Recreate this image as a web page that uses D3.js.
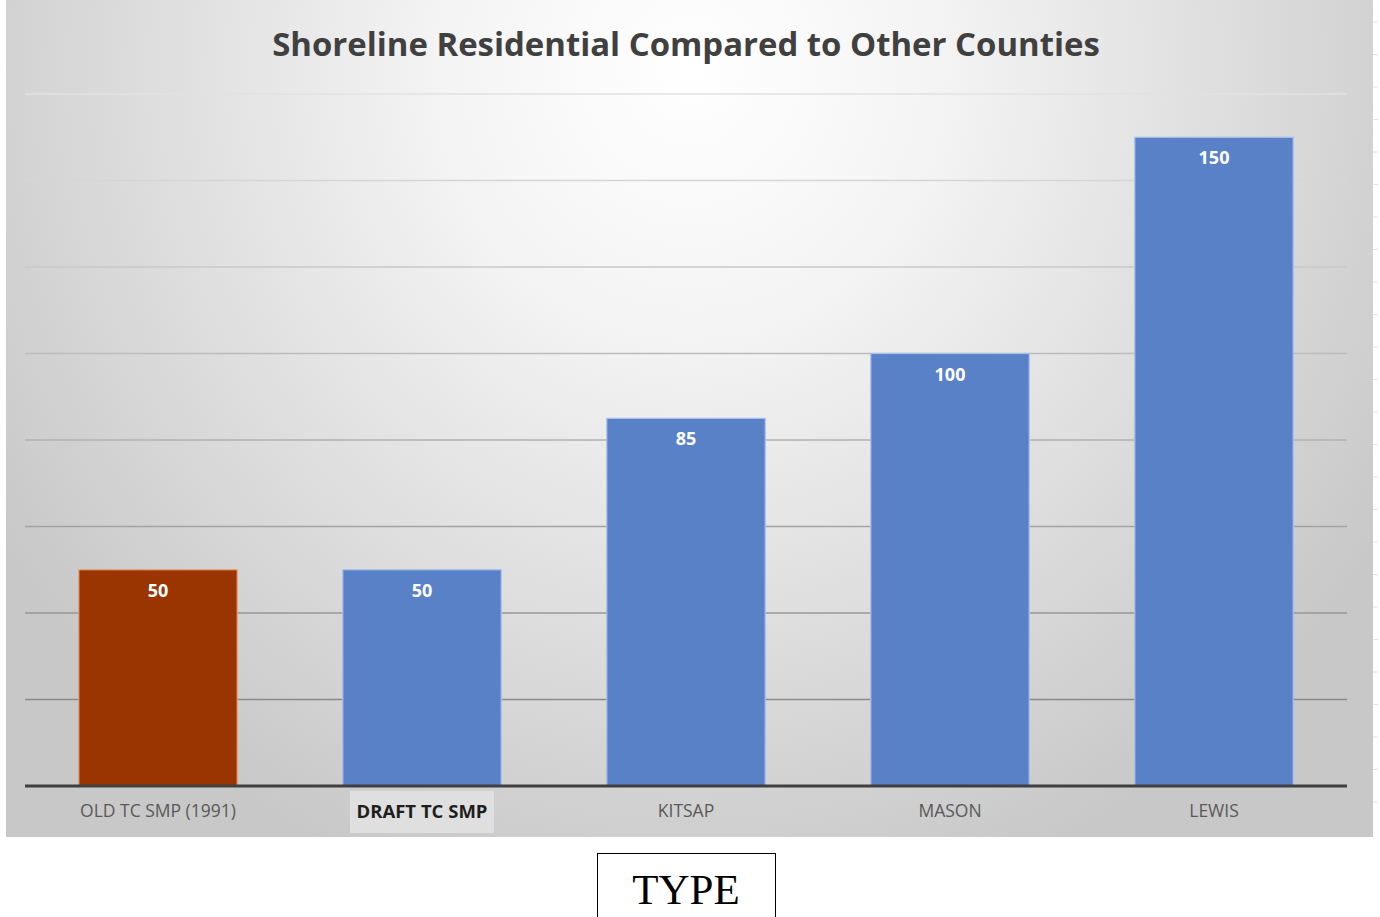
<!DOCTYPE html>
<html>
<head>
<meta charset="utf-8">
<script src="https://cdn.jsdelivr.net/npm/d3@7"></script>
<style>
  body { margin: 0; background: #fff; }
  svg { display: block; }
</style>
</head>
<body>
<div id="chart"></div>
<script>
// Chart data
var categories = ["OLD TC SMP (1991)", "DRAFT TC SMP", "KITSAP", "MASON", "LEWIS"];
var values = [50, 50, 85, 100, 150];
var gridTicks = [20, 40, 60, 80, 100, 120, 140, 160];
var highlighted = "OLD TC SMP (1991)";
var emphasised = "DRAFT TC SMP";
var title = "Shoreline Residential Compared to Other Counties";
var axisName = "TYPE";

var data = categories.map(function(c, i) { return {name: c, value: values[i]}; });

var W = 1380, H = 917;
var panel = {left: 6, top: 0, right: 1373, bottom: 837};
var plot = {left: 26, right: 1346, top: 94, bottom: 786};

var svg = d3.select("#chart")
  .append("svg")
    .attr("width", W)
    .attr("height", H);

// Background gradient of the chart panel
var defs = svg.append("defs");
var grad = defs.append("radialGradient")
    .attr("id", "bg")
    .attr("gradientUnits", "userSpaceOnUse")
    .attr("cx", 690).attr("cy", 70).attr("r", 820)
    .attr("gradientTransform", "translate(690,70) scale(1,1.05) translate(-690,-70)");
grad.append("stop").attr("offset", "0%").attr("stop-color", "#ffffff");
grad.append("stop").attr("offset", "30%").attr("stop-color", "#f4f4f4");
grad.append("stop").attr("offset", "65%").attr("stop-color", "#dedede");
grad.append("stop").attr("offset", "100%").attr("stop-color", "#c8c8c8");

svg.append("rect")
    .attr("x", panel.left).attr("y", panel.top)
    .attr("width", panel.right - panel.left)
    .attr("height", panel.bottom - panel.top)
    .attr("fill", "url(#bg)");

// faint ruler marks right of the panel
svg.append("g")
  .selectAll("line")
  .data(d3.range(22, 830, 32.5))
  .enter()
  .append("line")
    .attr("x1", 1373).attr("x2", 1378)
    .attr("y1", function(d) { return d; }).attr("y2", function(d) { return d; })
    .attr("stroke", "#e2e2e2")
    .attr("stroke-width", 1);

// Scales
var x = d3.scaleBand()
    .domain(categories)
    .range([plot.left, plot.right])
    .paddingInner(0.4)
    .paddingOuter(0.2);

var y = d3.scaleLinear()
    .domain([0, 160])
    .range([plot.bottom, plot.top]);

// Gridlines: lighter near the top, darker near the bottom
var gridColor = d3.scaleLinear()
    .domain([160, 20])
    .range(["#e2e2e2", "#8a8a8a"]);

svg.append("g")
  .selectAll("line")
  .data(gridTicks)
  .enter()
  .append("line")
    .attr("x1", plot.left - 1)
    .attr("x2", plot.right + 1)
    .attr("y1", function(d) { return y(d); })
    .attr("y2", function(d) { return y(d); })
    .attr("stroke", function(d) { return gridColor(d); })
    .attr("stroke-width", 1.3);

// Bars
svg.append("g")
  .selectAll("rect")
  .data(data)
  .enter()
  .append("rect")
    .attr("x", function(d) { return x(d.name); })
    .attr("y", function(d) { return y(d.value); })
    .attr("width", x.bandwidth())
    .attr("height", function(d) { return y(0) - y(d.value); })
    .attr("fill", function(d) { return d.name === highlighted ? "#9a3400" : "#5981c8"; })
    .attr("stroke", function(d) { return d.name === highlighted ? "#e8a27c" : "#a9c0ec"; })
    .attr("stroke-width", 1.2);

// Value labels inside bars
svg.append("g")
  .selectAll("text")
  .data(data)
  .enter()
  .append("text")
    .attr("x", function(d) { return x(d.name) + x.bandwidth() / 2; })
    .attr("y", function(d) { return y(d.value) + 27; })
    .attr("text-anchor", "middle")
    .style("font-family", "'Open Sans', sans-serif")
    .style("font-weight", "bold")
    .style("font-size", "18px")
    .style("fill", "#ffffff")
    .text(function(d) { return d.value; });

// Baseline
svg.append("line")
    .attr("x1", plot.left - 1)
    .attr("x2", plot.right + 1)
    .attr("y1", y(0))
    .attr("y2", y(0))
    .attr("stroke", "#3f3f3f")
    .attr("stroke-width", 3);

// Category axis
var xAxis = svg.append("g")
    .attr("transform", "translate(0," + (y(0) + 2) + ")")
    .call(d3.axisBottom(x).tickSize(0).tickPadding(17));
xAxis.select(".domain").remove();

xAxis.selectAll(".tick")
  .filter(function(d) { return d === emphasised; })
  .insert("rect", "text")
    .attr("x", -72).attr("y", 3)
    .attr("width", 144).attr("height", 42)
    .attr("fill", "#dfdfdf");

xAxis.selectAll("text")
    .style("font-family", "'Open Sans', sans-serif")
    .style("font-size", function(d) { return d === emphasised ? "18.5px" : "17.5px"; })
    .style("font-weight", function(d) { return d === emphasised ? "bold" : "normal"; })
    .style("fill", function(d) { return d === emphasised ? "#1e1e1e" : "#595959"; });

// Title, sized to span the same width as the original
var t = svg.append("text")
    .attr("x", 686)
    .attr("y", 56)
    .attr("text-anchor", "middle")
    .style("font-family", "'Open Sans', sans-serif")
    .style("font-weight", "bold")
    .style("font-size", "30px")
    .style("fill", "#404040")
    .text(title);
var tw = t.node().getComputedTextLength();
t.style("font-size", (30 * 828 / tw) + "px");

// Axis name box
svg.append("rect")
    .attr("x", 597.5).attr("y", 853.5)
    .attr("width", 178).attr("height", 70)
    .attr("fill", "#ffffff")
    .attr("stroke", "#000000")
    .attr("stroke-width", 1);

svg.append("text")
    .attr("x", 686)
    .attr("y", 904)
    .attr("text-anchor", "middle")
    .style("font-family", "'Liberation Serif', 'Times New Roman', serif")
    .style("font-size", "43px")
    .style("fill", "#000000")
    .text(axisName);
</script>
</body>
</html>
